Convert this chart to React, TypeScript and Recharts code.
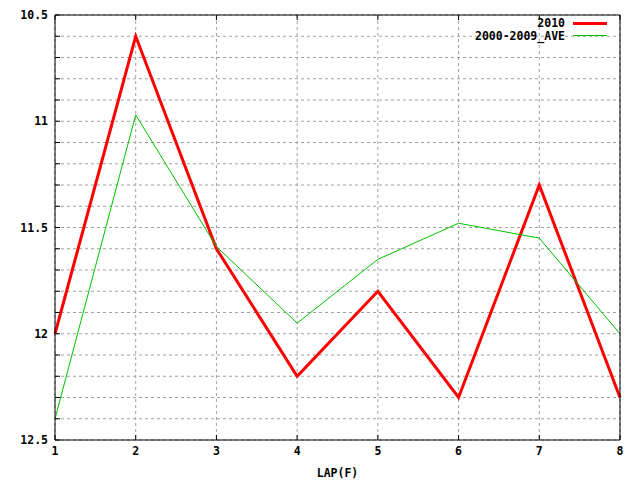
/**
 * Lap times per furlong, 2010 vs 2000-2009 average (gnuplot look).
 */

import {
  LineChart,
  Line,
  XAxis,
  YAxis,
  CartesianGrid,
} from "recharts";

const laps = [1, 2, 3, 4, 5, 6, 7, 8];
const y2010 = [12.0, 10.6, 11.6, 12.2, 11.8, 12.3, 11.3, 12.3];
const yAve = [12.4, 10.97, 11.59, 11.95, 11.65, 11.48, 11.55, 12.0];

const xTicks = [1, 2, 3, 4, 5, 6, 7, 8];
const yTicks = [
  10.5, 10.6, 10.7, 10.8, 10.9, 11, 11.1, 11.2, 11.3, 11.4, 11.5,
  11.6, 11.7, 11.8, 11.9, 12, 12.1, 12.2, 12.3, 12.4, 12.5,
];
const yLabels = [10.5, 11, 11.5, 12, 12.5];
const seriesNames = ["2010", "2000-2009_AVE"];

const data = laps.map((lap, i) => ({ lap, y2010: y2010[i], ave: yAve[i] }));

const FONT = "'DejaVu Sans Mono', monospace";
const tickStyle = { fontSize: 11.5, fontWeight: 700, fontFamily: FONT, fill: "#000" };

const fmtY = (v: number) =>
  yLabels.some((l) => Math.abs(l - v) < 1e-6) ? `${v}` : "";

const LegendBox = () => (
  <div
    style={{
      position: "absolute",
      top: 17,
      right: 33,
      fontFamily: FONT,
      fontSize: 11.5,
      fontWeight: 700,
      lineHeight: "12.5px",
    }}
  >
    {[
      { name: seriesNames[0], color: "#ff0000", w: 3 },
      { name: seriesNames[1], color: "#00c000", w: 1 },
    ].map((it) => (
      <div key={it.name} style={{ display: "flex", alignItems: "center", justifyContent: "flex-end" }}>
        <span>{it.name}</span>
        <span style={{ display: "inline-block", width: 34, height: it.w, background: it.color, marginLeft: 8 }} />
      </div>
    ))}
  </div>
);

export default function App() {
  return (
    <div style={{ position: "absolute", left: 0, top: 0, width: 640, height: 480, background: "#fff" }}>
      <LineChart width={640} height={480} data={data} margin={{ top: 14, right: 19, bottom: 0, left: 0 }}>
        <CartesianGrid stroke="#a0a0a0" strokeDasharray="3 3" />
        <XAxis
          dataKey="lap"
          type="number"
          domain={[1, 8]}
          ticks={xTicks}
          height={40}
          tickSize={-5}
          tickMargin={12}
          stroke="#000"
          tick={tickStyle}
          label={{ value: "LAP(F)", position: "insideBottom", offset: 3, style: tickStyle }}
        />
        <XAxis
          xAxisId="top"
          dataKey="lap"
          type="number"
          domain={[1, 8]}
          ticks={xTicks}
          orientation="top"
          height={1}
          tickSize={-5}
          tickFormatter={() => ""}
          stroke="#000"
        />
        <YAxis
          type="number"
          domain={[10.5, 12.5]}
          reversed
          ticks={yTicks}
          interval={0}
          width={55}
          tickSize={-5}
          tickMargin={12}
          tickFormatter={fmtY}
          stroke="#000"
          tick={tickStyle}
        />
        <YAxis
          yAxisId="right"
          type="number"
          domain={[10.5, 12.5]}
          reversed
          ticks={yTicks}
          interval={0}
          orientation="right"
          width={1}
          tickSize={-5}
          tickFormatter={() => ""}
          stroke="#000"
        />
        <Line dataKey="y2010" stroke="#ff0000" strokeWidth={3} dot={false} isAnimationActive={false} type="linear" name={seriesNames[0]} />
        <Line dataKey="ave" stroke="#00c000" strokeWidth={1} dot={false} isAnimationActive={false} type="linear" name={seriesNames[1]} />
      </LineChart>
      <LegendBox />
    </div>
  );
}
